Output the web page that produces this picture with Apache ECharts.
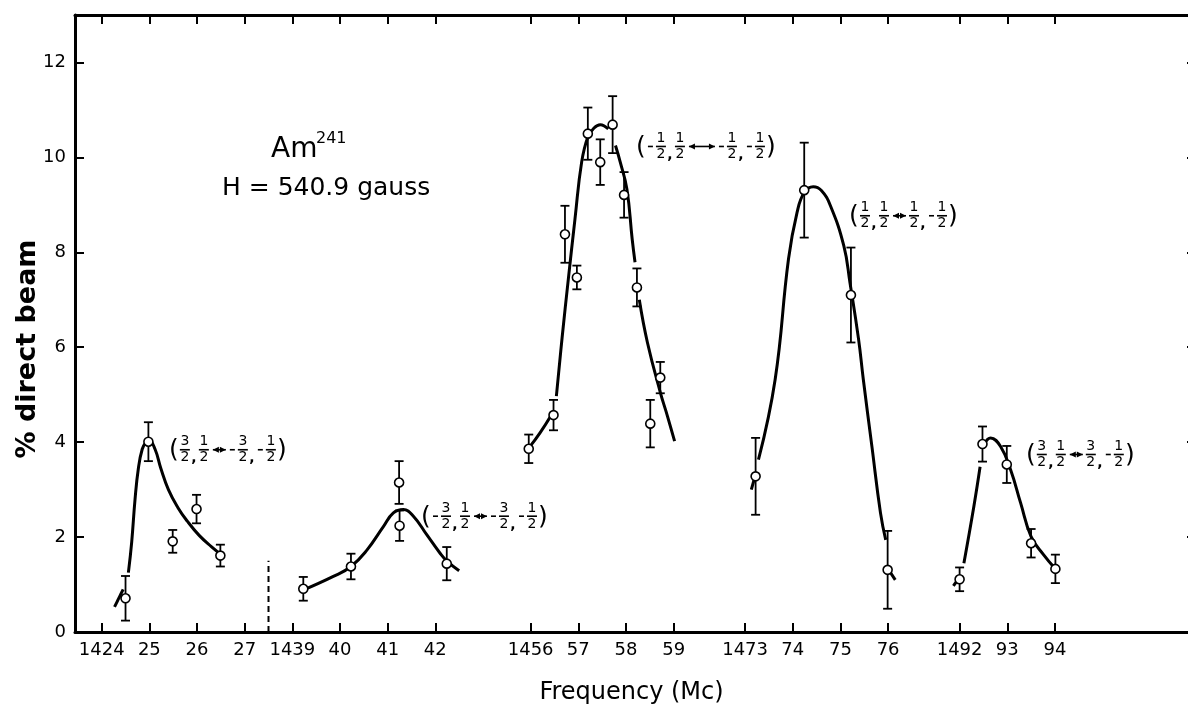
<!DOCTYPE html>
<html><head><meta charset="utf-8">
<script src="https://cdn.jsdelivr.net/npm/echarts@6/dist/echarts.min.js"></script>
<style>html,body{margin:0;padding:0;background:#fff}#c{width:1188px;height:709px}</style>
</head><body><div id="c"></div><script>
const FONT = 'DejaVu Sans';

// ---- broken frequency axis (Mc) ----
const segmentStart = [1424, 1439, 1456, 1473, 1492];
const segmentAxisStart = [0, 4, 9, 13.5, 18];
const tickFreq = [1424,1425,1426,1427,1439,1440,1441,1442,1456,1457,1458,1459,1473,1474,1475,1476,1492,1493,1494];
const tickLabels = ['1424','25','26','27','1439','40','41','42','1456','57','58','59','1473','74','75','76','1492','93','94'];
const yTickValues = [0,2,4,6,8,10,12];
const breakHeight = 1.5;

// ---- measured points (% direct beam) with error bars ----
const pointFreq  = [1424.50,1424.98,1425.49,1425.99,1426.49,
                    1439.23,1440.23,1441.24,1441.25,1442.24,
                    1455.96,1456.48,1456.72,1456.97,1457.20,1457.46,1457.72,1457.96,1458.23,1458.51,1458.72,
                    1473.22,1474.24,1475.22,1475.99,
                    1492.00,1492.48,1492.99,1493.50,1494.01];
const pointValue = [0.71,4.01,1.91,2.59,1.61,
                    0.91,1.38,3.15,2.24,1.44,
                    3.86,4.57,8.38,7.47,10.50,9.90,10.69,9.21,7.26,4.39,5.36,
                    3.28,9.31,7.10,1.31,
                    1.11,3.96,3.53,1.87,1.33];
const pointError = [0.47,0.41,0.24,0.30,0.23,
                    0.25,0.27,0.45,0.32,0.35,
                    0.30,0.32,0.60,0.25,0.55,0.48,0.60,0.48,0.40,0.50,0.33,
                    0.81,1.00,1.00,0.82,
                    0.25,0.37,0.39,0.30,0.30];

// ---- hand-drawn resonance curves (pieces) ----
const curve1a = [[1424.27,0.53],[1424.45,0.90]];
const curve1b = [[1424.56,1.25],[1424.63,1.9],[1424.70,2.8],[1424.77,3.45],[1424.85,3.85],[1424.93,4.0],[1425.0,4.03],[1425.12,3.85],[1425.24,3.45],[1425.40,3.0],[1425.60,2.62],[1425.80,2.33],[1426.05,2.03],[1426.30,1.80],[1426.52,1.62]];
const curve2  = [[1439.20,0.87],[1439.86,1.17],[1440.23,1.38],[1440.56,1.72],[1440.91,2.22],[1441.12,2.51],[1441.33,2.58],[1441.54,2.44],[1441.82,2.05],[1442.10,1.66],[1442.24,1.50],[1442.50,1.29]];
const curve3a = [[1455.98,3.90],[1456.2,4.2],[1456.45,4.6]];
const curve3b = [[1456.54,4.97],[1456.66,6.2],[1456.79,7.43],[1456.93,8.70],[1457.07,9.90],[1457.2,10.43],[1457.33,10.62],[1457.46,10.69],[1457.63,10.60]];
const curve3c = [[1457.78,10.25],[1457.88,9.90],[1458.02,9.33],[1458.13,8.28],[1458.19,7.79]];
const curve3d = [[1458.28,7.0],[1458.45,6.1],[1458.72,5.05],[1458.87,4.55],[1459.02,4.02]];
const curve4a = [[1473.13,3.0],[1473.20,3.25]];
const curve4b = [[1473.28,3.63],[1473.63,5.32],[1473.91,7.86],[1474.09,8.84],[1474.24,9.26],[1474.43,9.38],[1474.6,9.3],[1474.79,8.98],[1475.07,8.14],[1475.20,7.36],[1475.38,6.17],[1475.48,5.32],[1475.66,3.91],[1475.84,2.51],[1475.95,1.94]];
const curve4c = [[1476.05,1.25],[1476.15,1.10]];
const curve5a = [[1491.87,0.97],[1491.96,1.10]];
const curve5b = [[1492.09,1.45],[1492.30,2.65],[1492.43,3.48]];
const curve5c = [[1492.51,3.95],[1492.65,4.09],[1492.86,3.91],[1493.07,3.42],[1493.28,2.72],[1493.50,2.01],[1493.76,1.63],[1494.01,1.33]];
const curvePieces = [curve1a,curve1b,curve2,curve3a,curve3b,curve3c,curve3d,curve4a,curve4b,curve4c,curve5a,curve5b,curve5c];

// ---- transition labels ----
const annFreq  = [1425.43, 1441.72, 1458.23, 1475.20, 1493.41];
const annValue = [3.84, 2.44, 10.23, 8.77, 3.74];
const annText  = [
  '( 3/2 , 1/2 <> - 3/2 , - 1/2 )',
  '( - 3/2 , 1/2 <> - 3/2 , - 1/2 )',
  '( - 1/2 , 1/2 <-> - 1/2 , - 1/2 )',
  '( 1/2 , 1/2 <> 1/2 , - 1/2 )',
  '( 3/2 , 1/2 <> 3/2 , - 1/2 )'
];

function toU(f){
  let i = segmentStart.length - 1;
  while (i > 0 && f < segmentStart[i] - 1) i--;
  return segmentAxisStart[i] + (f - segmentStart[i]);
}
const tickU = tickFreq.map(toU);
const breakU = (toU(1427) + toU(1439)) / 2;

const series = [];
curvePieces.forEach(p => series.push({
  type:'line', data:p.map(d=>[toU(d[0]), d[1]]), smooth:0.45, showSymbol:false, symbol:'none',
  lineStyle:{color:'#000', width:3}, z:2, silent:true
}));
series.push({
  type:'line', data:[[breakU,0],[breakU,breakHeight]], showSymbol:false, symbol:'none',
  lineStyle:{color:'#000', width:2, type:[6,4]}, z:2, silent:true
});
series.push({
  type:'custom', z:3, silent:true,
  data: pointFreq.map((f,i)=>[toU(f), pointValue[i], pointError[i]]),
  encode:{x:0,y:1},
  renderItem(params, api){
    const x = api.value(0), v = api.value(1), e = api.value(2);
    const t = api.coord([x, v+e]), b = api.coord([x, v-e]);
    const cap = 4.5, st = {stroke:'#000', lineWidth:1.8};
    return {type:'group', children:[
      {type:'line', shape:{x1:t[0],y1:t[1],x2:b[0],y2:b[1]}, style:st},
      {type:'line', shape:{x1:t[0]-cap,y1:t[1],x2:t[0]+cap,y2:t[1]}, style:st},
      {type:'line', shape:{x1:b[0]-cap,y1:b[1],x2:b[0]+cap,y2:b[1]}, style:st}
    ]};
  }
});
series.push({
  type:'scatter', z:4, silent:true,
  data: pointFreq.map((f,i)=>[toU(f), pointValue[i]]),
  symbol:'circle', symbolSize:9,
  itemStyle:{color:'#fff', borderColor:'#000', borderWidth:1.6, opacity:1}
});

function buildLabel(text, x0, y0){
  const kids = [];
  let x = x0;
  const lw = 1.6, st = {stroke:'#000', lineWidth:lw};
  const digit = (t, cx, y, va) => ({type:'text', style:{text:t, x:cx, y:y, fill:'#000', fontSize:14, fontFamily:FONT, align:'center', verticalAlign:va}});
  text.split(' ').forEach(tok => {
    if (tok === '(' || tok === ')') {
      kids.push({type:'text', style:{text:tok, x:x+4, y:y0+1, fill:'#000', fontSize:25, fontFamily:FONT, align:'center', verticalAlign:'middle'}});
      x += 9;
    } else if (tok.indexOf('/') > 0) {
      const [n,d] = tok.split('/');
      const cx = x + 6;
      kids.push(digit(n, cx, y0-1, 'bottom'));
      kids.push({type:'line', shape:{x1:cx-5,y1:y0,x2:cx+5,y2:y0}, style:st});
      kids.push(digit(d, cx, y0+1, 'top'));
      x += 13;
    } else if (tok === ',') {
      kids.push({type:'text', style:{text:',', x:x+2, y:y0+16, fill:'#000', fontSize:14, fontFamily:FONT, fontWeight:'bold', align:'center', verticalAlign:'bottom'}});
      x += 6;
    } else if (tok === '-') {
      kids.push({type:'line', shape:{x1:x+2,y1:y0,x2:x+7,y2:y0}, style:st});
      x += 9;
    } else if (tok === '<>' || tok === '<->') {
      const w = tok === '<>' ? 17 : 30;
      const a = x + 2, b = x + w - 2;
      kids.push({type:'line', shape:{x1:a,y1:y0,x2:b,y2:y0}, style:st});
      kids.push({type:'polygon', shape:{points:[[a,y0],[a+6,y0-3],[a+6,y0+3]]}, style:{fill:'#000'}});
      kids.push({type:'polygon', shape:{points:[[b,y0],[b-6,y0-3],[b-6,y0+3]]}, style:{fill:'#000'}});
      x += w;
    }
  });
  return kids;
}
series.push({
  type:'custom', z:5, silent:true,
  data: annFreq.map((f,i)=>[toU(f), annValue[i], i]),
  encode:{x:0,y:1},
  renderItem(params, api){
    const p = api.coord([api.value(0), api.value(1)]);
    return {type:'group', children: buildLabel(annText[api.value(2)], p[0], p[1])};
  }
});

const axisLbl = {fontFamily:FONT, fontSize:18, color:'#000'};
const frameLine = {show:true, onZero:false, lineStyle:{color:'#000', width:3}};
const option = {
  animation:false,
  backgroundColor:'#fff',
  grid:{left:75, right:-8, top:15, bottom:77, containLabel:false, outerBoundsMode:'none'},
  xAxis:[{
    type:'value', min:-0.56, max:22.96, position:'bottom',
    axisLine:frameLine,
    axisTick:{show:true, inside:true, length:9, lineStyle:{color:'#000', width:2}, customValues:tickU},
    axisLabel:Object.assign({margin:9, customValues:tickU, formatter:(v)=>{
      const i = tickU.findIndex(t=>Math.abs(t-v)<1e-6); return i>=0 ? tickLabels[i] : '';
    }}, axisLbl),
    splitLine:{show:false},
    name:'Frequency (Mc)', nameLocation:'middle', nameGap:49,
    nameTextStyle:{fontFamily:FONT, fontSize:24, color:'#000', padding:[0,8,0,0]}
  },{
    type:'value', min:-0.56, max:22.96, position:'top',
    axisLine:frameLine,
    axisTick:{show:true, inside:true, length:9, lineStyle:{color:'#000', width:2}, customValues:tickU},
    axisLabel:{show:false}, splitLine:{show:false}
  }],
  yAxis:[{
    type:'value', min:0, max:13, interval:2, position:'left',
    axisLine:frameLine,
    axisTick:{show:true, inside:true, length:9, lineStyle:{color:'#000', width:2}, customValues:yTickValues},
    axisLabel:Object.assign({margin:9, customValues:yTickValues}, axisLbl),
    splitLine:{show:false}
  },{
    type:'value', min:0, max:13, interval:2, position:'right',
    axisLine:frameLine,
    axisTick:{show:true, inside:true, length:9, lineStyle:{color:'#000', width:2}, customValues:yTickValues},
    axisLabel:{show:false}, splitLine:{show:false}
  }],
  graphic:[
    {type:'text', x:28, y:349, rotation:Math.PI/2, style:{text:'% direct beam', fontFamily:FONT, fontSize:27, fontWeight:'bold', fill:'#000', align:'center', verticalAlign:'middle'}},
    {type:'text', left:271, top:136, style:{text:'Am', fontFamily:FONT, fontSize:28, fill:'#000'}},
    {type:'text', left:316, top:131, style:{text:'241', fontFamily:FONT, fontSize:16, fill:'#000'}},
    {type:'text', left:222, top:176, style:{text:'H = 540.9 gauss', fontFamily:FONT, fontSize:25, fill:'#000'}}
  ],
  series: series
};
const chart = echarts.init(document.getElementById('c'), null, {renderer:'canvas'});
chart.setOption(option);
</script></body></html>
